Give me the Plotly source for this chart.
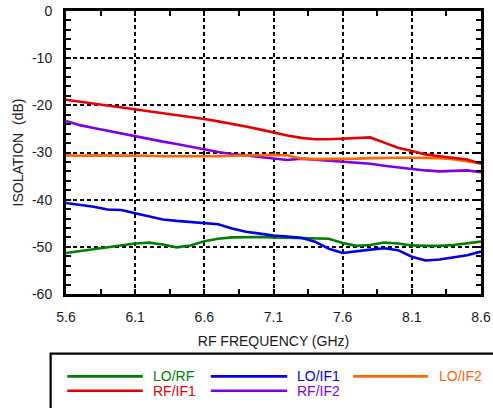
import plotly.graph_objects as go

freq = [5.6, 5.7, 5.8, 5.9, 6.0, 6.1, 6.2, 6.3, 6.4, 6.5, 6.6, 6.7, 6.8, 6.9, 7.0, 7.1,
        7.2, 7.3, 7.4, 7.5, 7.6, 7.7, 7.8, 7.9, 8.0, 8.1, 8.2, 8.3, 8.4, 8.5, 8.6]

lo_rf = [-51.3, -50.9, -50.6, -50.1, -49.8, -49.3, -49.1, -49.5, -50.1, -49.7, -48.8,
         -48.3, -48.0, -47.9, -47.9, -48.0, -48.1, -48.2, -48.2, -48.3, -49.2, -49.8,
         -49.6, -49.1, -49.3, -49.7, -49.8, -49.8, -49.6, -49.2, -48.9]
lo_if1 = [-40.7, -41.1, -41.5, -42.1, -42.2, -42.9, -43.6, -44.2, -44.5, -44.7, -45.0,
          -45.2, -46.1, -46.8, -47.2, -47.6, -47.8, -48.1, -48.9, -50.4, -51.3, -50.9,
          -50.6, -50.3, -50.7, -52.1, -52.9, -52.7, -52.3, -51.8, -51.0]
lo_if2 = [-30.6, -30.7, -30.6, -30.6, -30.7, -30.6, -30.7, -30.8, -30.8, -30.9, -30.9,
          -30.8, -30.7, -30.6, -30.5, -30.5, -30.6, -31.3, -31.4, -31.4, -31.4, -31.3,
          -31.2, -31.1, -31.1, -31.1, -31.1, -31.2, -31.4, -31.8, -32.3]
rf_if1 = [-18.8, -19.2, -19.6, -20.0, -20.4, -20.9, -21.3, -21.6, -22.0, -22.4, -22.9,
          -23.4, -23.9, -24.5, -25.1, -25.8, -26.4, -26.9, -27.2, -27.2, -27.1, -27.0,
          -26.8, -27.9, -29.0, -29.7, -30.4, -30.8, -31.1, -31.5, -32.4]
rf_if2 = [-23.3, -24.2, -24.8, -25.4, -26.0, -26.6, -27.2, -27.7, -28.2, -28.8, -29.4,
          -29.9, -30.3, -30.6, -30.9, -31.3, -31.6, -31.3, -31.5, -31.7, -31.9, -32.1,
          -32.4, -32.8, -33.2, -33.5, -33.8, -34.0, -33.9, -33.8, -34.2]

series_names = ["LO/RF", "LO/IF1", "LO/IF2", "RF/IF1", "RF/IF2"]
series_values = [lo_rf, lo_if1, lo_if2, rf_if1, rf_if2]
series_colors = ["#008000", "#0000e6", "#ff6600", "#e60000", "#8000e6"]

x_ticks = [5.6, 6.1, 6.6, 7.1, 7.6, 8.1, 8.6]
y_ticks = [0, -10, -20, -30, -40, -50, -60]

FONT = "Liberation Sans, Arial, Helvetica, sans-serif"

fig = go.Figure()
# draw order: green, blue, purple, orange, red (red on top)
for idx in [0, 1, 4, 2, 3]:
    fig.add_trace(go.Scatter(
        x=freq, y=series_values[idx], mode="lines", name=series_names[idx],
        line=dict(color=series_colors[idx], width=2.6), showlegend=False))

# manual legend (3 columns x 2 rows)
leg_pos = [  # (x0, x1, text_x, y) in paper coords
    (0.003, 0.185, 0.205, -0.291),
    (0.349, 0.533, 0.552, -0.291),
    (0.692, 0.872, 0.894, -0.291),
    (0.003, 0.185, 0.205, -0.342),
    (0.349, 0.533, 0.552, -0.342),
]
shapes = [dict(type="rect", xref="paper", yref="paper", x0=-0.037, x1=1.2,
               y0=-0.6, y1=-0.211, line=dict(color="black", width=2.2),
               fillcolor="rgba(0,0,0,0)")]
annotations = []
for (x0, x1, tx, yy), nm, col in zip(leg_pos, series_names, series_colors):
    shapes.append(dict(type="line", xref="paper", yref="paper", x0=x0, x1=x1,
                       y0=yy, y1=yy, line=dict(color=col, width=2.6)))
    annotations.append(dict(xref="paper", yref="paper", x=tx, y=yy, text=nm,
                            showarrow=False, xanchor="left", yanchor="middle",
                            font=dict(family=FONT, size=14, color=col)))

axis_common = dict(
    showline=True, linecolor="black", linewidth=3, mirror="allticks",
    ticks="inside", ticklen=5, tickwidth=2, tickcolor="black",
    showgrid=True, gridcolor="black", gridwidth=1.8, griddash="4px,3px",
    zeroline=False, tickfont=dict(family=FONT, size=14, color="#1a1a1a"),
)

fig.update_xaxes(
    **axis_common, range=[5.6, 8.6], tickvals=x_ticks,
    ticktext=[f"{v:.1f}" for v in x_ticks], ticklabelstandoff=8,
    minor=dict(dtick=0.25, tick0=5.6, ticks="inside", ticklen=5, tickwidth=2,
               tickcolor="black", showgrid=False),
    title=dict(text="RF FREQUENCY (GHz)", standoff=13,
               font=dict(family=FONT, size=14, color="#1a1a1a")),
)
fig.update_yaxes(
    **axis_common, range=[-60, 0], tickvals=y_ticks,
    ticktext=[str(v) for v in y_ticks], ticklabelstandoff=8,
    minor=dict(dtick=2, tick0=0, ticks="inside", ticklen=5, tickwidth=2,
               tickcolor="black", showgrid=False),
    title=dict(text="ISOLATION  (dB)", standoff=6,
               font=dict(family=FONT, size=14, color="#1a1a1a")),
)

fig.update_layout(
    width=493, height=408,
    margin=dict(l=66, r=12, t=11, b=114, autoexpand=False),
    paper_bgcolor="white", plot_bgcolor="white",
    shapes=shapes, annotations=annotations,
    font=dict(family=FONT, size=14, color="#1a1a1a"),
)

fig.write_html("out.html",
               config={"displayModeBar": False},
               post_script="document.body.style.margin='0px';"
                           "document.body.style.overflow='hidden';")
